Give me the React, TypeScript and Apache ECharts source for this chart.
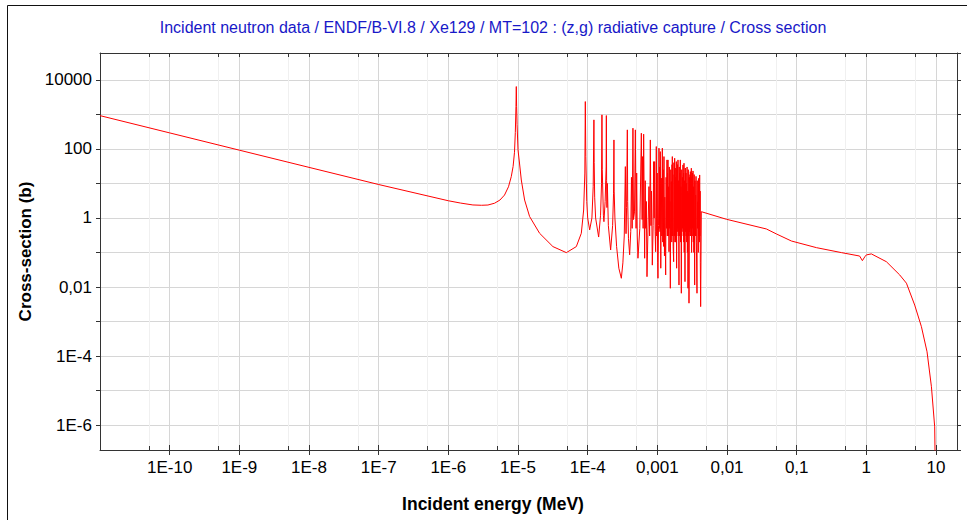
import React, { useEffect, useRef } from "react";
import * as echarts from "echarts";

const TITLE =
  "Incident neutron data / ENDF/B-VI.8 / Xe129 / MT=102 : (z,g) radiative capture / Cross section";
const X_NAME = "Incident energy (MeV)";
const Y_NAME = "Cross-section (b)";

// axis ranges (MeV, barns)
const X_MIN_MEV = 1e-11;
const X_MAX_MEV = 20;
const Y_MIN_B = 1.9e-7;
const Y_MAX_B = 6.0e4;

// minor x grid lines / ticks at 5 x 10^n
const MINOR_X_TICKS = [5e-11, 5e-10, 5e-9, 5e-8, 5e-7, 5e-6, 5e-5, 5e-4, 5e-3, 5e-2, 0.5, 5];

// [energy MeV, cross-section b]
const THERMAL_RANGE: number[][] = [
  [1e-11, 920], [1e-10, 291], [1e-9, 92], [1e-8, 29.2], [1e-7, 9.3], [1e-6, 3.15],
  [1.5e-6, 2.7], [2.25e-6, 2.38], [3.0e-6, 2.33], [3.7e-6, 2.37], [4.6e-6, 2.67],
  [5.5e-6, 3.3], [6.4e-6, 4.6], [7.3e-6, 8.0], [8.0e-6, 15.7], [8.5e-6, 31],
  [8.9e-6, 80], [9.15e-6, 300], [9.35e-6, 1700], [9.45e-6, 6400], [9.55e-6, 1700],
  [9.7e-6, 500], [1.0e-5, 94], [1.05e-5, 39], [1.115e-5, 12.6], [1.244e-5, 3.3],
  [1.467e-5, 1.1], [2.04e-5, 0.36], [3.17e-5, 0.148], [4.94e-5, 0.099],
  [6.87e-5, 0.148], [8.1e-5, 0.36], [8.75e-5, 1.7], [9.1e-5, 20],
];

const RESOLVED_LOW: number[][] = [
  [9.25e-5, 2350], [9.4e-5, 60], [9.7e-5, 3.0], [1.0e-4, 1.0], [1.067e-4, 0.45],
  [1.15e-4, 1.0], [1.2e-4, 8], [1.229e-4, 694], [1.24e-4, 40], [1.26e-4, 4],
  [1.3e-4, 1.0], [1.437e-4, 0.28], [1.53e-4, 1.2], [1.58e-4, 10], [1.602e-4, 970],
  [1.62e-4, 25], [1.68e-4, 1.2], [1.711e-4, 0.78], [1.78e-4, 3], [1.84e-4, 30],
  [1.853e-4, 925], [1.87e-4, 12], [1.89e-4, 2], [1.915e-4, 10], [1.98e-4, 0.6],
  [2.135e-4, 0.118], [2.28e-4, 0.6], [2.35e-4, 5], [2.382e-4, 182], [2.4e-4, 6],
  [2.46e-4, 1.0], [2.6e-4, 0.15], [2.8e-4, 0.035], [3.041e-4, 0.0179], [3.2e-4, 0.05],
  [3.35e-4, 0.3], [3.472e-4, 30.7], [3.55e-4, 0.35], [3.62e-4, 2], [3.709e-4, 356],
  [3.75e-4, 3], [3.85e-4, 0.25], [4.003e-4, 0.0857], [4.15e-4, 0.4], [4.25e-4, 15],
  [4.35e-4, 0.5], [4.464e-4, 398], [4.55e-4, 0.9], [4.7e-4, 1.5], [4.832e-4, 356],
  [4.95e-4, 0.5], [5.05e-4, 20], [5.15e-4, 0.3], [5.266e-4, 0.068], [5.6e-4, 0.5],
  [5.892e-4, 285], [6.05e-4, 0.9], [6.15e-4, 60], [6.25e-4, 0.5], [6.357e-4, 267],
];

const RESOLVED_HIGH: number[][] = [
  [6.57e-4, 0.068], [6.7e-4, 12], [6.8e-4, 0.5], [6.95e-4, 3], [7.1e-4, 0.0199],
  [7.3e-4, 0.3], [7.58e-4, 8.1], [7.75e-4, 0.3], [7.93e-4, 182], [8.1e-4, 0.6],
  [8.25e-4, 6], [8.47e-4, 0.043], [8.7e-4, 0.6], [8.85e-4, 42.9], [9.0e-4, 1.0],
  [9.15e-4, 42.9], [9.3e-4, 0.4], [9.45e-4, 0.105], [9.55e-4, 1.0], [9.66e-4, 117],
  [9.8e-4, 0.3], [9.95e-4, 20], [1.01e-3, 0.05], [1.021e-3, 0.0179], [1.04e-3, 0.6],
  [1.055e-3, 105], [1.07e-3, 0.5], [1.08e-3, 30], [1.09e-3, 0.4], [1.103e-3, 83.5],
  [1.12e-3, 0.035], [1.14e-3, 14.2], [1.16e-3, 0.3], [1.179e-3, 105], [1.195e-3, 0.2],
  [1.21e-3, 25], [1.225e-3, 0.15], [1.245e-3, 60], [1.265e-3, 0.08], [1.28e-3, 4],
  [1.316e-3, 0.0223], [1.335e-3, 15], [1.35e-3, 0.5], [1.375e-3, 48], [1.39e-3, 0.3],
  [1.4e-3, 20], [1.41e-3, 0.3], [1.421e-3, 48], [1.435e-3, 0.3], [1.45e-3, 8],
  [1.469e-3, 0.105], [1.485e-3, 30], [1.5e-3, 0.5], [1.515e-3, 3], [1.536e-3, 0.0092],
  [1.56e-3, 25], [1.575e-3, 0.3], [1.587e-3, 11.3], [1.61e-3, 0.2], [1.625e-3, 35],
  [1.632e-3, 0.8], [1.64e-3, 60], [1.66e-3, 0.3], [1.67e-3, 18], [1.685e-3, 0.15],
  [1.714e-3, 0.054], [1.73e-3, 40], [1.75e-3, 0.3], [1.772e-3, 53.7], [1.79e-3, 0.2],
  [1.805e-3, 28], [1.82e-3, 0.2], [1.84e-3, 15], [1.855e-3, 0.3], [1.872e-3, 42.9],
  [1.89e-3, 0.035], [1.91e-3, 25], [1.93e-3, 0.5], [1.95e-3, 35], [1.962e-3, 0.4],
  [1.978e-3, 48], [1.995e-3, 0.3], [2.01e-3, 12], [2.044e-3, 0.0114], [2.065e-3, 30],
  [2.08e-3, 0.3], [2.1e-3, 20], [2.115e-3, 0.5], [2.136e-3, 48], [2.155e-3, 0.2],
  [2.18e-3, 8], [2.209e-3, 0.0066], [2.24e-3, 25], [2.26e-3, 0.4], [2.29e-3, 15],
  [2.31e-3, 0.5], [2.333e-3, 34.4], [2.355e-3, 0.3], [2.38e-3, 20], [2.395e-3, 0.2],
  [2.412e-3, 38.5], [2.43e-3, 0.1], [2.46e-3, 12], [2.493e-3, 0.0143], [2.52e-3, 28],
  [2.55e-3, 0.4], [2.575e-3, 20], [2.59e-3, 0.3], [2.605e-3, 10.1], [2.64e-3, 0.2],
  [2.67e-3, 30], [2.7e-3, 0.1], [2.725e-3, 6], [2.753e-3, 0.0092], [2.78e-3, 25],
  [2.81e-3, 0.3], [2.83e-3, 5], [2.846e-3, 0.0034], [2.88e-3, 15], [2.91e-3, 0.4],
  [2.94e-3, 18], [2.955e-3, 0.3], [2.974e-3, 22], [3.0e-3, 0.5], [3.03e-3, 12],
  [3.05e-3, 0.3], [3.074e-3, 27.6], [3.1e-3, 0.1], [3.13e-3, 15], [3.16e-3, 0.3],
  [3.2e-3, 20], [3.225e-3, 0.5], [3.247e-3, 23], [3.28e-3, 0.2], [3.31e-3, 8],
  [3.34e-3, 0.1], [3.38e-3, 18], [3.432e-3, 0.0114], [3.47e-3, 12], [3.5e-3, 0.3],
  [3.546e-3, 4.6], [3.565e-3, 0.3], [3.59e-3, 16], [3.63e-3, 0.2], [3.706e-3, 0.0066],
  [3.74e-3, 12], [3.77e-3, 0.5], [3.831e-3, 2.96], [3.87e-3, 0.1], [3.91e-3, 14],
  [3.94e-3, 0.3], [3.99e-3, 10], [4.02e-3, 0.2], [4.049e-3, 17.6], [4.08e-3, 0.3],
  [4.11e-3, 6], [4.14e-3, 0.05], [4.183e-3, 0.0027],
];

const FAST_RANGE: number[][] = [
  [4.277e-3, 1.52], [9.8e-3, 0.916], [0.0367, 0.48], [0.0512, 0.344], [0.084, 0.215],
  [0.192, 0.138], [0.44, 0.099], [0.8, 0.079], [0.877, 0.058], [0.95, 0.075],
  [1.0, 0.085], [1.18, 0.091], [1.94, 0.054], [3.01, 0.0224], [3.76, 0.0129],
  [4.94, 0.003], [6.17, 7.1e-4], [7.43, 1.33e-4], [8.59, 1.29e-5], [9.57, 8.9e-7],
  [10.0, 1e-9],
];

const FONT = "'Liberation Sans', Arial, Helvetica, sans-serif";
const AXIS_COLOR = "#333333";
const GRID_COLOR = "#d6d6d6";
const MINOR_GRID_COLOR = "#f0f0f0";

function powLabel(v: number): string {
  const n = Math.round(v);
  if (Math.abs(v - n) > 1e-6) return "";
  if (n >= 0) return String(Math.pow(10, n));
  if (n >= -3) return "0," + "0".repeat(-n - 1) + "1";
  return "1E" + n;
}

export default function App() {
  const ref = useRef<HTMLDivElement>(null);

  useEffect(() => {
    if (!ref.current) return;
    const chart = echarts.init(ref.current, undefined, { renderer: "svg" });
    const curve = [...THERMAL_RANGE, ...RESOLVED_LOW, ...RESOLVED_HIGH, ...FAST_RANGE].map(
      ([e, s]) => [Math.log10(e), Math.log10(s)]
    );
    const xMin = Math.log10(X_MIN_MEV);
    const xMax = Math.log10(X_MAX_MEV);
    const yMin = Math.log10(Y_MIN_B);
    const yMax = Math.log10(Y_MAX_B);

    const xBase = { type: "value" as const, min: xMin, max: xMax, interval: 1 };
    const yBase = {
      type: "value" as const,
      min: yMin,
      max: yMax,
      splitNumber: 12,
      minInterval: 1,
      maxInterval: 1,
    };
    const line = { show: true, onZero: false, lineStyle: { color: AXIS_COLOR } };
    const noLine = { show: false, onZero: false };

    chart.setOption({
      animation: false,
      backgroundColor: "#ffffff",
      title: {
        text: TITLE,
        left: 493,
        top: 19,
        padding: 0,
        textAlign: "center",
        textStyle: { color: "#1818c8", fontSize: 16, fontWeight: "normal", fontFamily: FONT },
      },
      graphic: [
        { type: "line", shape: { x1: 7.5, y1: 5.5, x2: 7.5, y2: 530 }, style: { stroke: "#111", lineWidth: 1 } },
        { type: "line", shape: { x1: 7.5, y1: 5.5, x2: 967, y2: 5.5 }, style: { stroke: "#111", lineWidth: 1 } },
      ],
      grid: { left: 100, top: 53, right: 13, bottom: 70, containLabel: false },
      xAxis: [
        {
          ...xBase,
          position: "bottom",
          name: X_NAME,
          nameLocation: "middle",
          nameGap: 45,
          nameTextStyle: {
            color: "#000",
            fontSize: 17.5,
            fontWeight: "bold",
            fontFamily: FONT,
            padding: [0, 71, 0, 0],
          },
          axisLine: line,
          axisTick: { show: true, inside: false, length: 5, lineStyle: { color: AXIS_COLOR } },
          axisLabel: {
            color: "#000",
            fontSize: 17,
            fontFamily: FONT,
            margin: 9,
            showMinLabel: false,
            showMaxLabel: false,
            formatter: (v: number) => (Math.round(v) <= -11 ? "" : powLabel(v)),
          },
          splitLine: { show: true, lineStyle: { color: GRID_COLOR } },
        },
        {
          ...xBase,
          position: "bottom",
          axisLine: noLine,
          axisTick: { show: true, inside: true, length: 5, lineStyle: { color: AXIS_COLOR } },
          axisLabel: { show: false },
          splitLine: { show: false },
        },
        {
          ...xBase,
          position: "top",
          axisLine: line,
          axisTick: { show: true, inside: true, length: 4, lineStyle: { color: AXIS_COLOR } },
          axisLabel: { show: false },
          splitLine: { show: false },
        },
      ],
      yAxis: [
        {
          ...yBase,
          position: "left",
          name: Y_NAME,
          nameLocation: "middle",
          nameRotate: 90,
          nameGap: 64,
          nameTextStyle: { color: "#000", fontSize: 17, fontWeight: "bold", fontFamily: FONT },
          axisLine: line,
          axisTick: { show: true, inside: false, length: 4, lineStyle: { color: AXIS_COLOR } },
          axisLabel: {
            color: "#000",
            fontSize: 17,
            fontFamily: FONT,
            margin: 8,
            showMinLabel: false,
            showMaxLabel: false,
            formatter: (v: number) => {
              const n = Math.round(v);
              if (Math.abs(v - n) > 1e-6 || n % 2 !== 0) return "";
              return powLabel(v);
            },
          },
          splitLine: { show: true, lineStyle: { color: GRID_COLOR } },
        },
        {
          ...yBase,
          position: "right",
          axisLine: line,
          axisTick: { show: true, inside: false, length: 4, lineStyle: { color: AXIS_COLOR } },
          axisLabel: { show: false },
          splitLine: { show: false },
        },
      ],
      series: [
        {
          type: "custom",
          xAxisIndex: 0,
          yAxisIndex: 0,
          z: 1,
          silent: true,
          data: MINOR_X_TICKS.map((v) => [Math.log10(v), 0]),
          renderItem: (params: any, api: any) => {
            const cs = params.coordSys;
            const x = Math.round(api.coord([api.value(0), api.value(1)])[0]) + 0.5;
            const top = cs.y;
            const bottom = cs.y + cs.height;
            return {
              type: "group",
              children: [
                { type: "line", shape: { x1: x, y1: top, x2: x, y2: bottom }, style: { stroke: MINOR_GRID_COLOR, lineWidth: 1 } },
                { type: "line", shape: { x1: x, y1: top, x2: x, y2: top + 4 }, style: { stroke: AXIS_COLOR, lineWidth: 1 } },
                { type: "line", shape: { x1: x, y1: bottom - 4, x2: x, y2: bottom }, style: { stroke: AXIS_COLOR, lineWidth: 1 } },
              ],
            };
          },
        },
        {
          type: "line",
          xAxisIndex: 0,
          yAxisIndex: 0,
          z: 5,
          data: curve,
          showSymbol: false,
          symbol: "none",
          clip: true,
          lineStyle: { color: "#ff0000", width: 1 },
        },
      ],
    });
    return () => chart.dispose();
  }, []);

  return (
    <div
      ref={ref}
      style={{ position: "fixed", left: 0, top: 0, width: 970, height: 520, background: "#fff" }}
    />
  );
}
